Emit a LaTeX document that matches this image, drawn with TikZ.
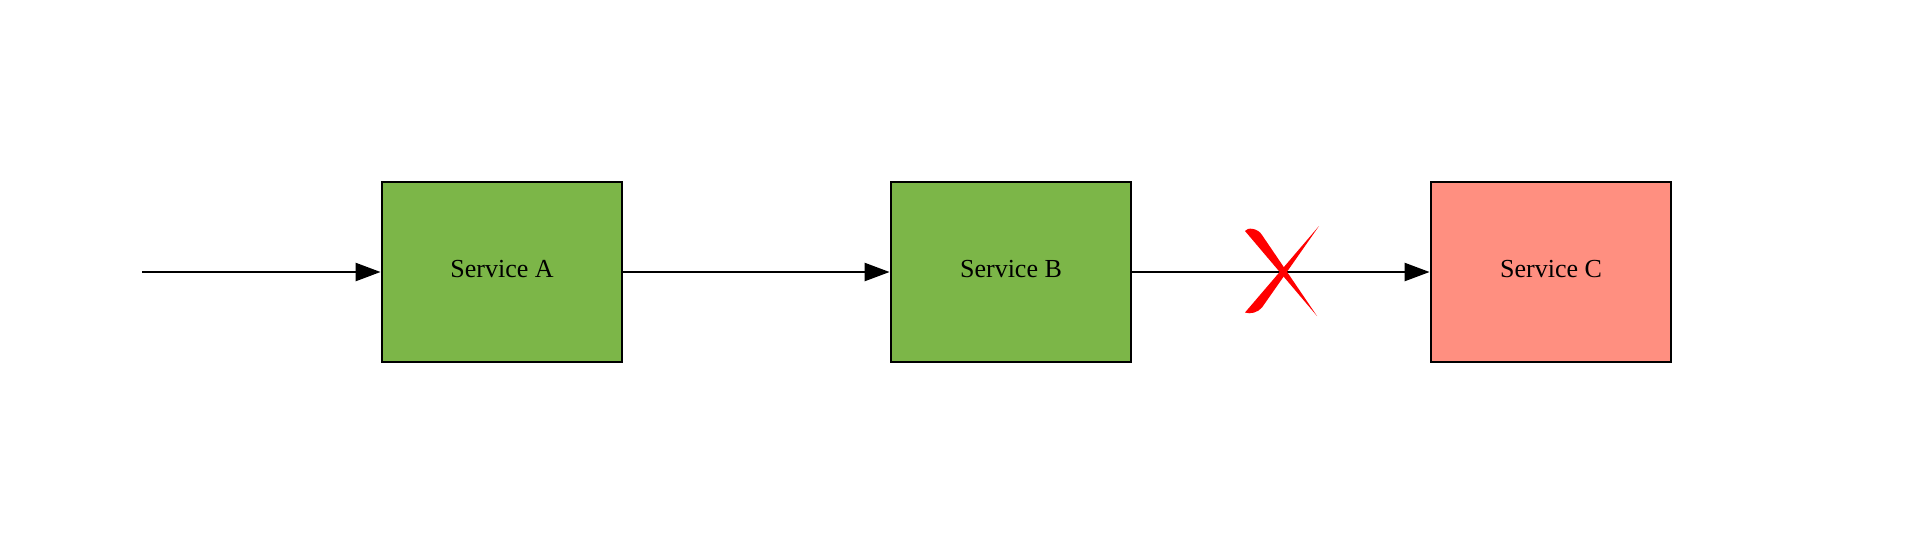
\documentclass[tikz,border=0pt]{standalone}
\usepackage{fontspec}
\setmainfont{Liberation Serif}
\usetikzlibrary{arrows.meta}
\definecolor{boxgreen}{RGB}{124,182,72}
\definecolor{boxred}{RGB}{255,143,128}
\begin{document}
\begin{tikzpicture}[x=1pt,y=-1pt,
  svc/.style={draw=black,line width=2.8pt,minimum width=240pt,minimum height=180pt,inner sep=0pt},
  lbl/.style={inner sep=0pt,font=\fontsize{26}{30}\selectfont},
  conn/.style={line width=2.4pt,-{Triangle[length=25pt,width=18pt]}},
  cross/.style={fill=red,draw=none}]
\useasboundingbox (0,0) rectangle (1924,536);
\node[svc,fill=boxgreen] (A) at (502,272) {};
\node[svc,fill=boxgreen] (B) at (1011,272) {};
\node[svc,fill=boxred] (C) at (1551,272) {};
\node[lbl] (Al) at ([yshift=3pt]A.center) {Service A};
\node[lbl] (Bl) at ([yshift=3pt]B.center) {Service B};
\node[lbl] (Cl) at ([yshift=3pt]C.center) {Service C};
\coordinate (start) at (142,272);
\draw[conn] (start) -- (A.west);
\draw[conn] (A.east) -- (B.west);
\draw[conn] (B.east) -- (C.west);
\coordinate (X) at (1283,272);
\begin{scope}[shift={(X)}]
  \fill[cross] (-38,-41) .. controls (-36,-45) and (-25,-44) .. (-21,-37) -- (34,44) -- cycle;
  \fill[cross] (36,-46) -- (-38,40.5) .. controls (-33,42.5) and (-25,40.5) .. (-21,35.5) -- cycle;
\end{scope}
\end{tikzpicture}
\end{document}
